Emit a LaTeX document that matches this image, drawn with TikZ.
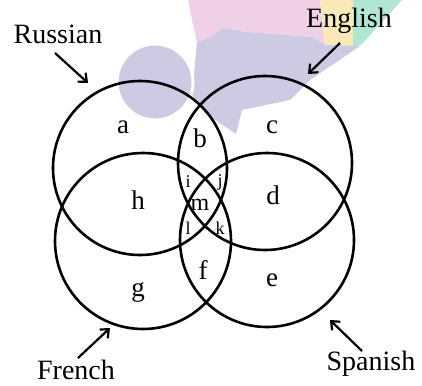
\documentclass[tikz,border=0pt]{standalone}
\usepackage{fontspec}
\setmainfont{Liberation Serif}
\usetikzlibrary{arrows.meta}
\definecolor{lavender}{RGB}{206,202,228}
\definecolor{pinkwash}{RGB}{240,208,230}
\definecolor{yellowwash}{RGB}{250,232,184}
\definecolor{greenwash}{RGB}{178,230,212}

\begin{document}
\begin{tikzpicture}[x=1pt, y=-1pt,
    set/.style={line width=2.6pt},
    lang/.style={font=\fontsize{28}{28}\selectfont, inner sep=0pt},
    region/.style={font=\fontsize{27}{27}\selectfont, inner sep=0pt},
    small/.style={font=\fontsize{18}{18}\selectfont, inner sep=0pt},
    pointer/.style={line width=2.2pt, -{Straight Barb[length=7pt, width=12pt]}}]
    \useasboundingbox (0,0) rectangle (422,385);
    % Faded logo behind the sets
    \fill[pinkwash] (188,0) -- (320,0) -- (325,45) -- (313,37) -- (247,32) -- (223,28) -- (210,37) -- (197,42) -- (192,20) -- cycle;
    \fill[yellowwash] (320,0) -- (353,0) -- (353,48) -- (325,45) -- cycle;
    \fill[greenwash] (353,0) -- (402,0) -- (362,44) -- (353,48) -- cycle;
    \fill[lavender] (197,42) -- (192,95) -- (205,113) -- (236,134) -- (242,110) -- (290,100) -- (310,80) -- (360,46) -- (325,45) -- (313,37) -- (247,32) -- (223,28) -- (210,37) -- cycle;
    \filldraw[lavender, draw=white, line width=3pt] (155,82) circle (38);
    % Sets
    \coordinate (R) at (140,168);
    \coordinate (E) at (265,163);
    \coordinate (F) at (143,241);
    \coordinate (S) at (267,240);
    \draw[set] (R) circle (87);
    \draw[set] (E) circle (87);
    \draw[set] (F) circle (88);
    \draw[set] (S) circle (87);
    % Language names
    \node[lang] (russian) at (58,34) {Russian};
    \node[lang] (english) at (349,21) {English};
    \node[lang] (french) at (76,370) {French};
    \node[lang] (spanish) at (371,364) {Spanish};
    % Arrows
    \coordinate (ruTail) at (55,53);  \coordinate (ruTip) at (88,83);
    \coordinate (enTail) at (340,43); \coordinate (enTip) at (308,74);
    \coordinate (frTail) at (78,358); \coordinate (frTip) at (110,328);
    \coordinate (spTail) at (362,351); \coordinate (spTip) at (330,320);
    \draw[pointer] (ruTail) -- (ruTip);
    \draw[pointer] (enTail) -- (enTip);
    \draw[pointer] (frTail) -- (frTip);
    \draw[pointer] (spTail) -- (spTip);
    % Regions
    \node[region] (a) at (123,127) {a};
    \node[region] (b) at (200,138) {b};
    \node[region] (c) at (272,127) {c};
    \node[region] (h) at (138,200) {h};
    \node[region] (d) at (273,195) {d};
    \node[region] (g) at (138,292) {g};
    \node[region] (f) at (203,270) {f};
    \node[region] (e) at (272,280) {e};
    \node[font=\fontsize{24}{24}\selectfont, inner sep=0pt] (m) at (200,205) {m};
    \node[small] (i) at (188,182) {i};
    \node[small] (j) at (220,182) {j};
    \node[small] (l) at (188,228) {l};
    \node[small] (k) at (220,228) {k};
\end{tikzpicture}
\end{document}
